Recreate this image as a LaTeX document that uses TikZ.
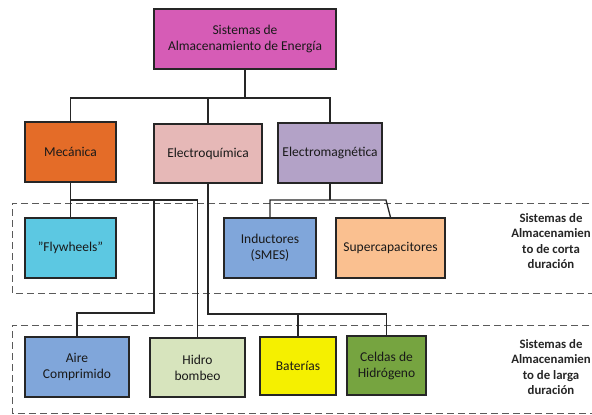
\documentclass[tikz,border=0pt]{standalone}
\usepackage{fontspec}
\setmainfont{Carlito}
\definecolor{cRoot}{RGB}{214,92,182}
\definecolor{cMec}{RGB}{228,108,40}
\definecolor{cEq}{RGB}{230,184,183}
\definecolor{cEm}{RGB}{179,162,199}
\definecolor{cFly}{RGB}{92,200,226}
\definecolor{cInd}{RGB}{128,166,218}
\definecolor{cSup}{RGB}{250,192,144}
\definecolor{cAire}{RGB}{128,166,218}
\definecolor{cHid}{RGB}{215,228,189}
\definecolor{cBat}{RGB}{245,240,0}
\definecolor{cCel}{RGB}{118,164,64}
\definecolor{cDash}{RGB}{90,90,90}
\begin{document}
\begin{tikzpicture}[x=1pt,y=-1pt,
  box/.style={draw=black!85,line width=1.3pt,align=center,inner sep=0pt,
    font=\fontsize{13.5}{16}\selectfont,text=black!90},
  conn/.style={draw=black!85,line width=1.3pt},
  dashbox/.style={draw=cDash,line width=1pt,dash pattern=on 7pt off 4pt},
  lbl/.style={align=center,font=\fontsize{12.8}{15.5}\selectfont\bfseries,text=black!85}]
\useasboundingbox (0,0) rectangle (592,415);
\begin{scope}
\clip (0,0) rectangle (592,415);
\draw[dashbox] (600,203) -- (12,203) -- (12,293) -- (600,293);
\draw[dashbox] (600,325) -- (12,325) -- (12,413) -- (600,413);
\end{scope}
\node[box,fill=cRoot,minimum width=182pt,minimum height=60pt] (root) at (245,39) {Sistemas de\\Almacenamiento de Energía};
\node[box,fill=cMec,minimum width=91pt,minimum height=60pt] (mec) at (70.5,152) {Mecánica};
\node[box,fill=cEq,minimum width=108pt,minimum height=59pt] (eq) at (208,153.5) {Electroquímica};
\node[box,fill=cEm,minimum width=104pt,minimum height=60pt] (em) at (330,153) {Electromagnética};
\node[box,fill=cFly,minimum width=91pt,minimum height=60pt] (fly) at (70.5,248) {\symbol{34}Flywheels\symbol{34}};
\node[box,fill=cInd,minimum width=92pt,minimum height=60pt] (ind) at (270,248) {Inductores\\(SMES)};
\node[box,fill=cSup,minimum width=109pt,minimum height=60pt] (sup) at (390.5,248) {Supercapacitores};
\node[box,fill=cAire,minimum width=104pt,minimum height=60pt] (aire) at (77,367) {Aire\\Comprimido};
\node[box,fill=cHid,minimum width=95pt,minimum height=59pt] (hid) at (197.5,367.5) {Hidro\\bombeo};
\node[box,fill=cBat,minimum width=76pt,minimum height=58pt] (bat) at (298,366) {Baterías};
\node[box,fill=cCel,minimum width=79pt,minimum height=59pt] (cel) at (386.5,365.5) {Celdas de\\Hidrógeno};
\node[lbl] (l1) at (551,241) {Sistemas de\\Almacenamien\\to de corta\\duración};
\node[lbl] (l2) at (551,367) {Sistemas de\\Almacenamien\\to de larga\\duración};
% connectors
\coordinate (bus) at (0,98);
\draw[conn] (root.south) -- (root.south |- bus);
\draw[conn] (mec.north) |- (em.north |- bus) -- (em.north);
\draw[conn] (eq.north) -- (eq.north |- bus);
\coordinate (m1) at (70.5,200);
\coordinate (m2) at (154,200);
\coordinate (m3) at (154,313);
\draw[conn] (mec.south) -- (fly.north);
\draw[conn] (m1) -- (hid.north |- m1) -- (hid.north);
\draw[conn] (m2) -- (m3) -| (aire.north);
\coordinate (e1) at (0,314);
\draw[conn] (eq.south) |- (cel.north |- e1) -- (cel.north);
\draw[conn] (bat.north |- e1) -- (bat.north);
\coordinate (c1) at (0,200);
\coordinate (c2) at (386,200);
\draw[conn] (em.south) -- (em.south |- c1);
\draw[conn] (ind.north) |- (c2) -- (sup.north);
\end{tikzpicture}
\end{document}
